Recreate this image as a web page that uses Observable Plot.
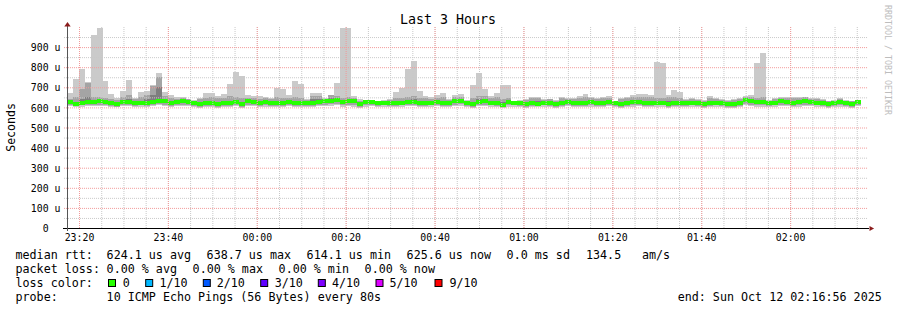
<!DOCTYPE html>
<html><head><meta charset="utf-8">
<script src="https://cdn.jsdelivr.net/npm/d3@7"></script>
<script src="https://cdn.jsdelivr.net/npm/@observablehq/plot@0.6"></script>
<style>
body{margin:0;background:#fff;}
#chart{width:897px;height:310px;}
</style></head><body><div id="chart"></div>
<script>
// ---- time axis ----
const domainStartISO = "2025-10-11T23:17:18Z";
const domainEndISO = "2025-10-12T02:17:18Z";
const binStartISO = "2025-10-11T23:17:18Z";
const stepSeconds = 80;

// ---- per-bin sorted ping values (microseconds) ----
const pingMax = [
671,741,791,726,960,995,731,665,645,681,
736,645,676,683,710,771,676,661,653,650,
644,637,649,671,672,657,665,716,776,756,
663,658,655,652,645,697,692,661,733,716,
644,672,672,645,661,721,995,995,656,640,
632,637,634,637,640,677,697,791,831,682,
657,654,661,672,640,661,667,637,711,771,
692,658,672,711,711,634,637,642,650,650,
640,642,637,650,645,645,655,667,650,645,
650,656,634,645,650,661,665,665,661,827,
822,661,687,677,640,645,640,637,656,645,
640,637,640,645,658,663,821,872,637,645,
652,652,650,650,650,647,645,640,634,637,
645,637,634,637];
const ping9 = [
640,650,691,720,652,650,645,640,636,650,
662,640,650,660,705,749,655,645,642,645,
640,634,642,648,650,645,648,655,650,648,
648,645,642,645,640,650,648,645,650,645,
638,655,655,642,661,655,648,650,648,634,
630,632,630,632,636,645,645,650,657,648,
645,643,648,650,636,650,652,632,648,655,
655,645,650,640,645,630,632,636,645,645,
636,640,632,645,640,640,645,650,645,640,
645,648,630,640,645,650,652,650,650,648,
648,650,650,648,636,640,636,632,645,640,
636,634,636,640,652,650,648,650,632,640,
645,645,645,648,650,642,640,636,632,634,
640,634,630,634];
const ping8 = [
632,628,640,650,636,638,634,630,626,636,
640,630,634,640,660,700,640,630,634,638,
634,628,626,630,634,628,632,634,636,628,
638,636,632,634,630,632,634,636,634,632,
628,640,640,638,646,646,636,640,638,626,
628,630,627,628,628,632,632,636,640,632,
630,632,636,634,630,640,642,628,628,640,
642,632,634,628,634,628,626,626,632,630,
630,632,626,632,634,630,632,634,634,632,
630,636,626,628,632,636,638,632,632,634,
634,630,634,632,630,632,630,626,632,632,
630,626,626,632,646,642,636,636,628,632,
638,636,632,636,640,634,632,630,626,630,
634,628,626,632];
const median = [
625,617,622,627,627,630,627,622,617,627,
627,620,622,622,627,632,630,620,627,630,
627,620,617,620,622,617,620,622,627,617,
630,627,622,625,622,620,622,628,622,622,
620,622,627,630,634,636,627,632,630,617,
625,627,622,624,622,620,624,626,628,622,
620,624,627,620,622,632,634,622,618,628,
632,624,622,614,625,624,620,618,622,619,
624,622,617,622,627,622,620,622,625,622,
620,626,622,618,620,625,626,622,620,624,
624,618,620,622,620,624,622,617,620,624,
622,618,617,620,639,632,627,625,620,624,
630,626,622,625,630,627,624,620,618,622,
625,620,617,626];
const ping3 = [
618,612,615,618,618,620,618,614,610,618,
618,613,615,614,618,622,620,612,618,620,
618,612,610,612,614,610,612,614,618,610,
620,618,614,616,614,612,614,618,614,614,
612,614,618,620,624,626,618,622,620,610,
616,618,614,616,614,612,616,618,618,614,
612,616,618,612,614,622,624,614,610,618,
622,616,614,608,616,616,612,610,614,612,
616,614,610,614,618,614,612,614,616,614,
612,618,614,610,612,616,618,614,612,616,
616,610,612,614,612,616,614,610,612,616,
614,610,610,612,626,622,618,616,612,616,
620,618,614,616,620,618,616,612,610,614,
616,612,610,618];
const ping2 = [
612,606,610,612,612,614,612,608,604,612,
612,608,610,608,612,616,614,606,612,614,
612,606,604,606,608,604,606,608,612,604,
614,612,608,610,608,606,608,612,608,608,
606,608,612,614,616,618,612,614,612,604,
610,612,608,610,608,606,610,612,612,608,
606,610,612,606,608,614,616,608,604,612,
614,610,608,602,610,610,606,604,608,606,
610,608,604,608,612,608,606,608,610,608,
606,612,608,604,606,610,612,608,606,610,
610,604,606,608,606,610,608,604,606,610,
608,604,604,606,618,614,612,610,606,610,
614,612,608,610,614,612,610,606,604,608,
610,606,604,612];
const pingMin = [
606,602,604,606,606,608,606,602,600,606,
606,602,604,602,606,610,608,600,606,608,
606,600,598,600,602,598,600,602,606,598,
608,606,602,604,602,600,602,606,602,602,
600,602,606,608,608,610,604,606,604,598,
604,606,602,604,602,600,604,606,606,602,
600,604,606,600,602,606,608,602,598,606,
606,604,602,596,604,604,600,598,602,600,
604,602,598,602,606,602,600,602,604,602,
600,606,602,598,600,604,606,602,600,604,
604,598,600,602,600,604,602,598,600,604,
602,598,598,600,610,606,604,602,600,604,
608,606,602,604,608,606,604,600,598,602,
604,600,598,606];

// ---- ticks ----
const yTicks = [0,100,200,300,400,500,600,700,800,900];
const yTickLabels = ["0\u00a0\u00a0","100 u","200 u","300 u","400 u","500 u","600 u","700 u","800 u","900 u"];
const xTickLabels = ["23:20","23:40","00:00","00:20","00:40","01:00","01:20","01:40","02:00"];

// ---- texts ----
const titleText = "Last 3 Hours";
const yLabel = "Seconds";
const watermark = "RRDTOOL / TOBI OETIKER";
const legendRtt = ["median rtt:","624.1 us avg","638.7 us max","614.1 us min","625.6 us now","0.0 ms sd","134.5","am/s"];
const legendLoss = ["packet loss:","0.00 % avg","0.00 % max","0.00 % min","0.00 % now"];
const lossColorLabel = "loss color:";
const lossLabels = ["0","1/10","2/10","3/10","4/10","5/10","9/10"];
const lossColors = ["#26ff00","#00b8ff","#0059ff","#5e00ff","#7e00ff","#dd00ff","#ff0000"];
const probeLabel = "probe:";
const probeText = "10 ICMP Echo Pings (56 Bytes) every 80s";
const endText = "end: Sun Oct 12 02:16:56 2025";

// ---- build ----
const x0 = new Date(domainStartISO), x1 = new Date(domainEndISO);
const t0 = new Date(binStartISO).getTime();
const rows = pingMax.map((m, k) => ({
  t1: new Date(t0 + k * stepSeconds * 1000),
  t2: new Date(t0 + (k + 1) * stepSeconds * 1000),
  max: m, p9: ping9[k], p8: ping8[k], med: median[k], p3: ping3[k], p2: ping2[k], min: pingMin[k]
}));
const xTickDates = xTickLabels.map(s => new Date((s.startsWith("23") ? "2025-10-11T" : "2025-10-12T") + s + ":00Z"));
const xMinor = d3.utcMinute.every(5).range(new Date("2025-10-11T23:20:00Z"), new Date("2025-10-12T02:16:00Z"));
const yMinor = d3.range(50, 1000, 100);
const yMajor = d3.range(100, 1000, 100);
const off = s => new Date(x0.getTime() + s * 1000);
const offEnd = s => new Date(x1.getTime() + s * 1000);

const upTri = {draw(c){ c.moveTo(0,-2.6); c.lineTo(3.2,2); c.lineTo(-3.2,2); c.closePath(); }};
const rightTri = {draw(c){ c.moveTo(2.6,0); c.lineTo(-2,-2.6); c.lineTo(-2,2.6); c.closePath(); }};
const arrowColor = "#8b1c1c";
const gridColor = "#c8c8c8", mgridColor = "#f29a9a";
const mono = "DejaVu Sans Mono";

const svg = Plot.plot({
  width: 897, height: 310,
  marginLeft: 67, marginRight: 30, marginTop: 27, marginBottom: 82,
  x: {type: "utc", domain: [x0, x1], axis: null},
  y: {domain: [0, 1000], axis: null},
  style: {fontFamily: mono, background: "#fff", overflow: "visible"},
  marks: [
    Plot.rect(rows, {x1: "t1", x2: "t2", y1: "min", y2: "max", fill: "#cacaca", shapeRendering: "crispEdges"}),
    Plot.rect(rows, {x1: "t1", x2: "t2", y1: "p2", y2: "p9", fill: "#a4a4a4", shapeRendering: "crispEdges"}),
    Plot.rect(rows, {x1: "t1", x2: "t2", y1: "p3", y2: "p8", fill: "#7e7e7e", shapeRendering: "crispEdges"}),
    Plot.rect(rows, {x1: "t1", x2: "t2", y1: d => d.med - 10, y2: d => d.med + 10, fill: "#26ff00", shapeRendering: "crispEdges"}),
    Plot.ruleY(yMinor, {x1: () => off(-40), x2: () => offEnd(14), stroke: gridColor, strokeDasharray: "1,1"}),
    Plot.ruleX(xMinor, {y1: 0, y2: 1000, stroke: gridColor, strokeDasharray: "1,1"}),
    Plot.ruleY(yMajor, {x1: () => off(-40), x2: () => offEnd(14), stroke: mgridColor, strokeDasharray: "1,1"}),
    Plot.ruleX(xTickDates, {y1: 0, y2: 1000, stroke: mgridColor, strokeDasharray: "1,1"}),
    Plot.ruleY([0], {x1: () => off(-54), x2: () => offEnd(27), stroke: "#000"}),
    Plot.ruleX([x0], {y1: -15, y2: 1018, stroke: "#555"}),
    Plot.dot([0], {x: () => x0, y: () => 1015, symbol: upTri, fill: arrowColor, r: 3}),
    Plot.dot([0], {x: () => offEnd(54), y: () => 0, symbol: rightTri, fill: arrowColor, r: 3}),
    Plot.text(yTicks, {x: () => x0, y: d => d, text: (d, i) => yTickLabels[i], dx: -7, dy: 0.5, textAnchor: "end", lineAnchor: "middle", fontSize: 9.85, fill: "#000"}),
    Plot.text(xTickDates, {x: d => d, y: () => 0, text: (d, i) => xTickLabels[i], dy: 9.6, lineAnchor: "middle", fontSize: 9.85, fill: "#000"})
  ]
});
document.getElementById("chart").appendChild(svg);

const s = d3.select(svg);
const addText = (x, y, str, size, opts = {}) => {
  const t = s.append("text").attr("x", x).attr("y", y).text(str)
    .attr("font-family", mono).attr("font-size", size).attr("fill", opts.fill || "#000")
    .attr("text-anchor", opts.anchor || "start")
    .attr("xml:space", "preserve");
  if (opts.transform) t.attr("transform", opts.transform);
  return t;
};
addText(448, 24, titleText, 13.3, {anchor: "middle"});
addText(0, 0, yLabel, 11.6, {anchor: "middle", transform: "translate(15,127.4) rotate(-90)"});
addText(0, 0, watermark, 8.3, {fill: "#bdbdbd", transform: "translate(885,5) rotate(90)"});

const LS = 11.7;
const rttX = [15.5,106.6,206.6,306.6,406.6,506.6,586,642];
legendRtt.forEach((t, i) => addText(rttX[i], 258.5, t, LS));
const lossX = [15.5,106.6,192.6,278.6,364.6];
legendLoss.forEach((t, i) => addText(lossX[i], 272.7, t, LS));
addText(15.5, 286.9, lossColorLabel, LS);
const boxX = [108.5,145.7,203.3,260.7,318.3,376,435];
const lblX = [122.7,159.4,216.7,274.7,332,389.4,449.4];
lossLabels.forEach((t, i) => {
  s.append("rect").attr("x", boxX[i]).attr("y", 279.5).attr("width", 7).attr("height", 7)
    .attr("fill", lossColors[i]).attr("stroke", "#000").attr("stroke-width", 1);
  addText(lblX[i], 286.9, t, LS);
});
addText(15.5, 301, probeLabel, LS);
addText(106.6, 301, probeText, LS);
addText(677.7, 301, endText, LS);
</script></body></html>
